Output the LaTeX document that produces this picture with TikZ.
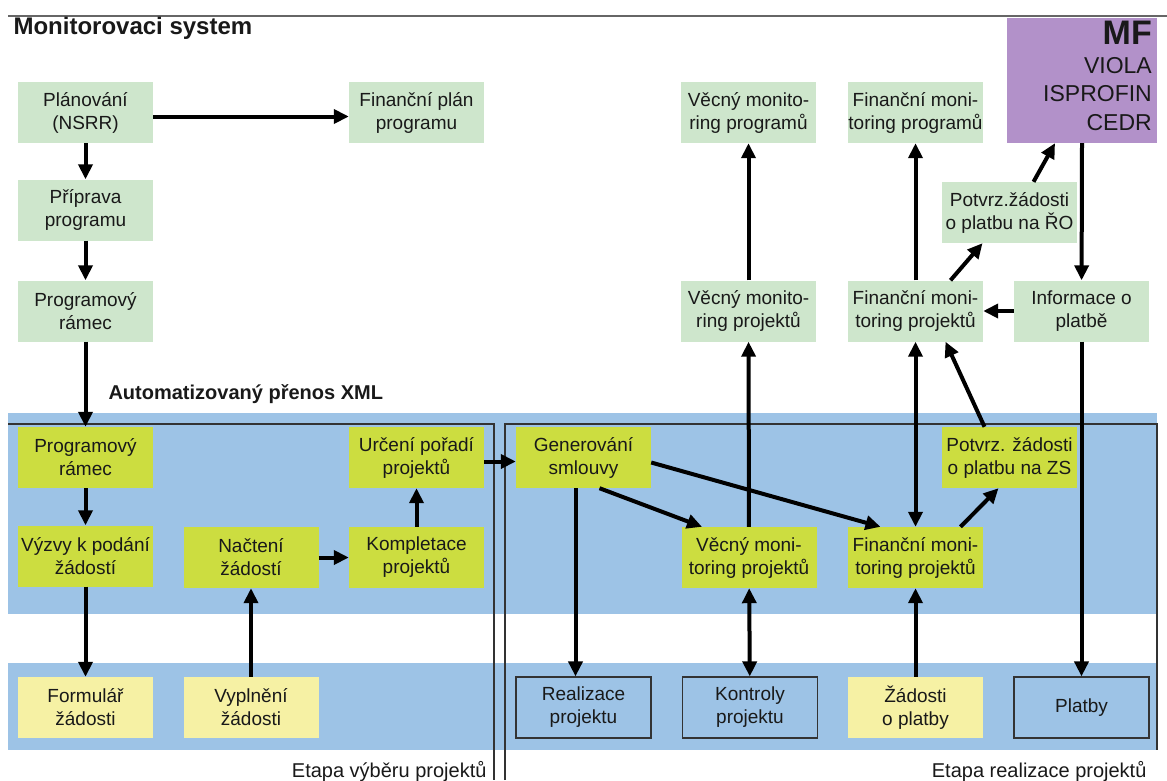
\documentclass[tikz,border=0pt]{standalone}
\usepackage{fontspec}
\setmainfont{Liberation Sans}
\usepackage{xcolor}
\usepackage{tikz}
\usetikzlibrary{arrows.meta}

\definecolor{bandblue}{RGB}{157,195,230}
\definecolor{palegreen}{RGB}{206,230,204}
\definecolor{limebox}{RGB}{204,221,64}
\definecolor{paleyellow}{RGB}{246,241,164}
\definecolor{mfviolet}{RGB}{178,145,201}
\definecolor{txtgray}{RGB}{25,25,25}

\tikzset{
  box/.style={minimum width=135pt,minimum height=61pt,inner sep=0pt,align=center,
    text=txtgray,font=\fontsize{19}{23}\selectfont},
  planbox/.style={box,fill=palegreen},
  workbox/.style={box,fill=limebox},
  formbox/.style={box,fill=paleyellow},
  realbox/.style={box,fill=bandblue,draw=black!80,line width=1.2pt},
  flow/.style={-{Triangle[length=15pt,width=14pt]},line width=4pt},
  twoway/.style={{Triangle[length=15pt,width=14pt]}-{Triangle[length=15pt,width=14pt]},line width=4pt}
}

\begin{document}
\begin{tikzpicture}[x=1pt,y=-1pt]
            \useasboundingbox (0,0) rectangle (1167,780);
            % pasy v pozadi
            \fill[bandblue] (8,413) rectangle (1157,614);
            \fill[bandblue] (8,663) rectangle (1157,750);
            \draw[black!80,line width=1.2pt] (8,424) -- (494,424) -- (494,780);
            \draw[black!80,line width=1.2pt] (505,780) -- (505,424) -- (1157,424) -- (1157,750);
            \draw[black!60,line width=2.5pt] (8,16) -- (1167,16);

            \node[anchor=base west,font=\fontsize{24}{26}\selectfont\bfseries,text=txtgray] (title) at (10,34) {Monitorovaci system};
            \node[anchor=base west,font=\fontsize{20}{24}\selectfont\bfseries,text=txtgray] (xml) at (105,399) {Automatizovaný přenos XML};
            \node[anchor=base east,font=\fontsize{20}{24}\selectfont,text=txtgray] (etapa1) at (490,777) {Etapa výběru projektů};
            \node[anchor=base east,font=\fontsize{20}{24}\selectfont,text=txtgray] (etapa2) at (1150,777) {Etapa realizace projektů};

            % MF
            \node[fill=mfviolet,minimum width=150pt,minimum height=125pt,inner sep=0pt] (mf) at (1082,80.5) {};
            \node[anchor=north east,align=right,text=txtgray,inner sep=0pt,
                  font=\fontsize{23}{28.5}\selectfont] (mftext) at (1152,21)
                  {{\fontsize{34}{33}\selectfont\bfseries MF}\\VIOLA\\ISPROFIN\\CEDR};

            % monitorovaci system
            \node[planbox] (plan) at (85.5,112.5) {Plánování\\(NSRR)};
            \node[planbox] (finplan) at (416.5,112.5) {Finanční plán\\programu};
            \node[planbox] (prip) at (85.5,210) {Příprava\\programu};
            \node[planbox] (progT) at (85.5,311) {Programový\\rámec};
            \node[planbox] (vecP) at (748.5,112.5) {Věcný monito-\\ring programů};
            \node[planbox] (finP) at (915.5,112.5) {Finanční moni-\\toring programů};
            \node[planbox] (potRO) at (1009.5,212.5) {Potvrz.žádosti\\o platbu na ŘO};
            \node[planbox] (vecT) at (748.5,311) {Věcný monito-\\ring projektů};
            \node[planbox] (finT) at (915.5,311) {Finanční moni-\\toring projektů};
            \node[planbox] (info) at (1081.5,311) {Informace o\\platbě};

            % zpracovani
            \node[workbox] (progL) at (85.5,457.5) {Programový\\rámec};
            \node[workbox] (vyz) at (85.5,556) {Výzvy k podání\\žádostí};
            \node[workbox] (nac) at (251,557.5) {Načtení\\žádostí};
            \node[workbox] (komp) at (416.5,557.5) {Kompletace\\projektů};
            \node[workbox] (urc) at (416.5,457.5) {Určení pořadí\\projektů};
            \node[workbox] (gen) at (583.5,457.5) {Generování\\smlouvy};
            \node[workbox] (vecL) at (749,557.5) {Věcný moni-\\toring projektů};
            \node[workbox] (finL) at (915.5,557.5) {Finanční moni-\\toring projektů};
            \node[workbox] (potZS) at (1009.5,457.5) {Potvrz. žádosti\\o platbu na ZS};

            % spodni rada
            \node[formbox] (form) at (85.5,707.5) {Formulář\\žádosti};
            \node[formbox] (vypl) at (251,707.5) {Vyplnění\\žádosti};
            \node[realbox] (real) at (583.5,707.5) {Realizace\\projektu};
            \node[realbox] (kontr) at (750,707.5) {Kontroly\\projektu};
            \node[formbox] (zad) at (915.5,707.5) {Žádosti\\o platby};
            \node[realbox] (platby) at (1081.5,707.5) {Platby};

            % toky
            \draw[flow] ([yshift=-4pt]plan.east) -- ([yshift=-4pt]finplan.west);
            \draw[flow] (plan) -- (prip);
            \draw[flow] (prip) -- (progT);
            \draw[flow] (progT) -- (progL);
            \draw[flow] (progL) -- (vyz);
            \draw[flow] (vyz) -- (form);
            \draw[flow] (vypl) -- (nac);
            \draw[flow] (nac) -- (komp);
            \draw[flow] (komp) -- (urc);
            \draw[flow] ([yshift=-4pt]urc.east) -- ([yshift=-4pt]gen.west);
            \draw[flow] ([xshift=-8pt]gen.south) -- ([xshift=-8pt]real.north);
            \draw[flow] ([xshift=16pt]gen.south) -- ([xshift=-47pt]vecL.north);
            \draw[flow] ([yshift=-5pt]gen.east) -- ([xshift=-35pt]finL.north);
            \draw[flow] (vecL) -- (vecT);
            \draw[flow] (vecT) -- (vecP);
            \draw[twoway] (vecL) -- (kontr);
            \draw[twoway] (finT) -- (finL);
            \draw[flow] (zad) -- (finL);
            \draw[flow] ([xshift=45pt]finL.north) -- ([xshift=-11pt]potZS.south);
            \draw[flow] ([xshift=-25pt]potZS.north) -- ([xshift=30pt]finT.south);
            \draw[flow] (finT) -- (finP);
            \draw[flow] ([xshift=35pt]finT.north) -- ([xshift=-27pt]potRO.south);
            \draw[flow] ([xshift=24pt]potRO.north) -- ([xshift=-27pt]mf.south);
            \draw[flow] (mf.south) -- (info);
            \draw[flow] (info) -- (finT);
            \draw[flow] (info) -- (platby);
\end{tikzpicture}
\end{document}
